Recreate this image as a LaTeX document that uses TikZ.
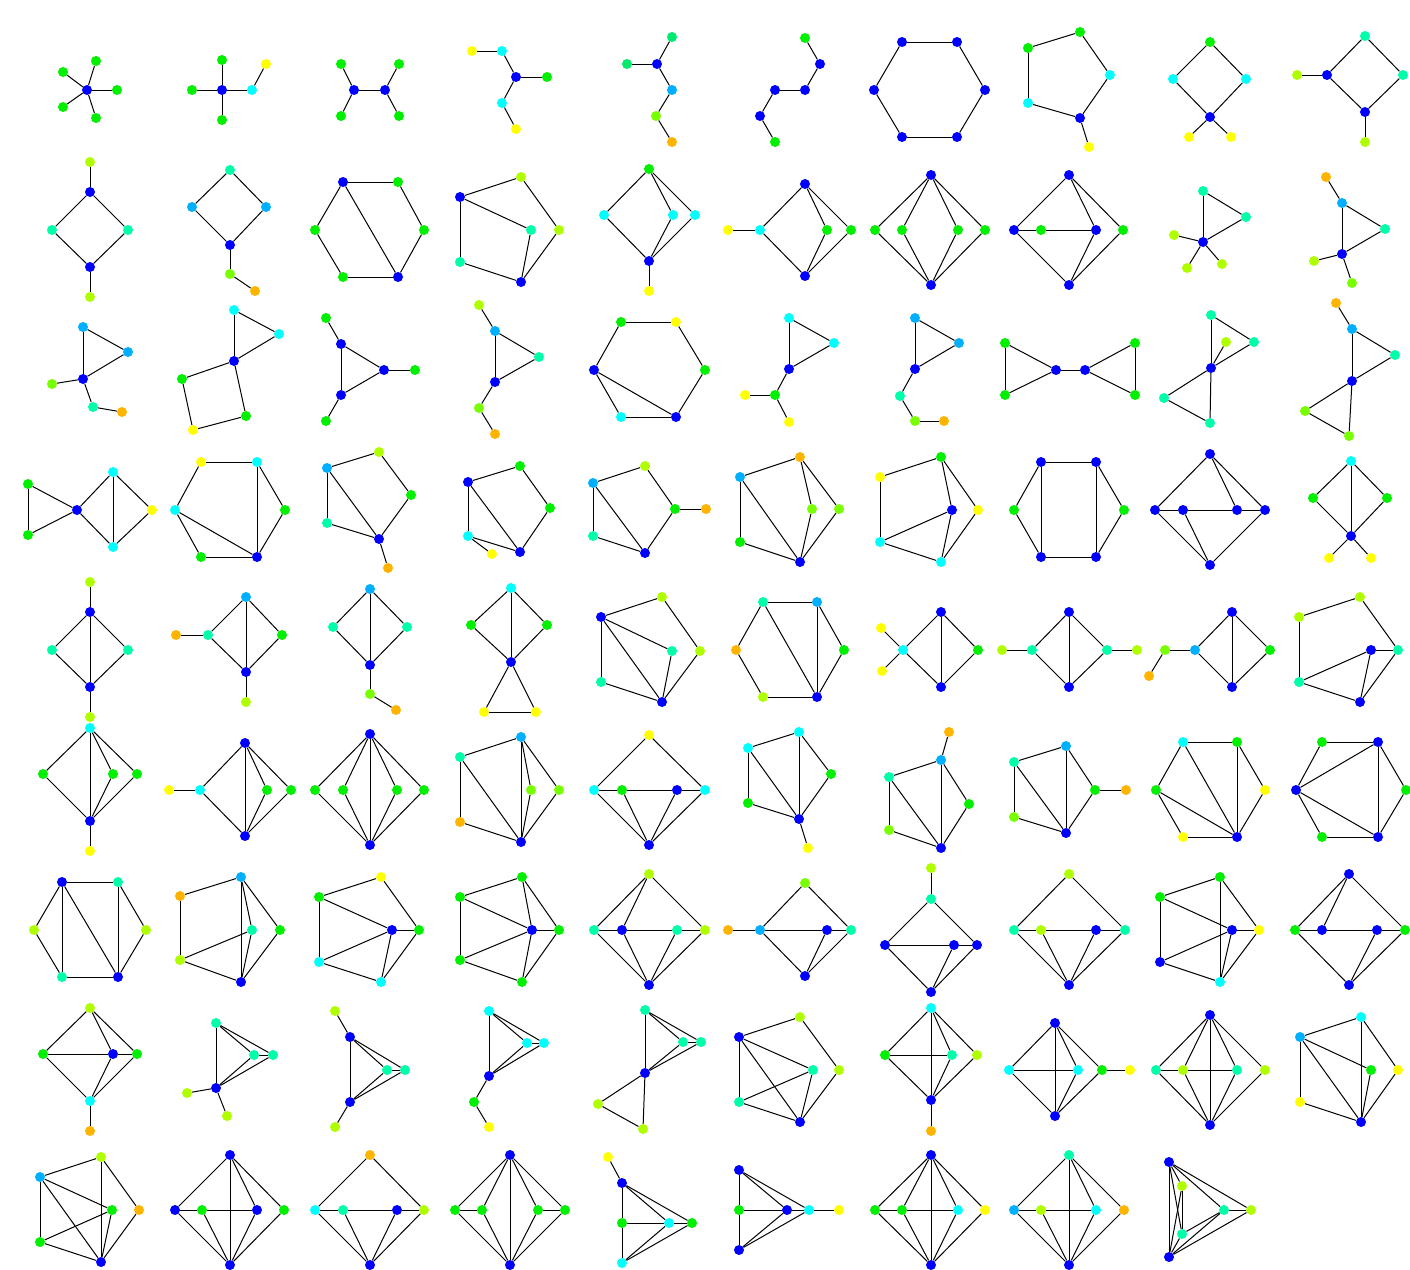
\documentclass[tikz,border=0pt]{standalone}
\usepackage{tikz}
\usetikzlibrary{positioning}
\pgfdeclarelayer{background}
\pgfsetlayers{background,main}

\definecolor{vb}{RGB}{0,0,255}
\definecolor{vlb}{RGB}{0,175,255}
\definecolor{vc}{RGB}{0,255,255}
\definecolor{vt}{RGB}{0,255,170}
\definecolor{vsg}{RGB}{0,235,110}
\definecolor{vg}{RGB}{0,240,0}
\definecolor{vch}{RGB}{120,255,0}
\definecolor{vl}{RGB}{175,255,0}
\definecolor{vy}{RGB}{255,255,0}
\definecolor{vo}{RGB}{255,180,0}

% Knoten und Kanten eines Graphen (Name, Liste)
\newcommand\graphverts[2]{\foreach \n/\c/\x/\y in {#2}{\node[vert, fill=\c] (#1\n) at (\x,\y) {};}}
\newcommand\graphedges[2]{\begin{pgfonlayer}{background}\foreach \u/\v in {#2}{\draw[edge] (#1\u) -- (#1\v);}\end{pgfonlayer}}

\begin{document}
\begin{tikzpicture}[x=1pt, y=-1pt,
        vert/.style={circle, inner sep=0pt, minimum size=10pt},
        edge/.style={line width=1pt, black}
      ]
        % Feste Bounding-Box
        \useasboundingbox (0,0) rectangle (1410,1269);

        % Zeile 1
        \graphverts{g1}{a/vb/87/90, b/vg/96/61, c/vg/63/72, d/vg/117/90, e/vg/63/107, f/vg/96/118}
        \graphedges{g1}{a/b,a/c,a/d,a/e,a/f}
        \graphverts{g2}{a/vb/222/90, b/vg/192/90, c/vg/222/60, d/vg/222/120, e/vc/252/90, f/vy/266/64}
        \graphedges{g2}{a/b,a/c,a/d,a/e,e/f}
        \graphverts{g3}{a/vb/354/90, b/vb/385/90, c/vg/341/64, d/vg/341/116, e/vg/399/64, f/vg/399/116}
        \graphedges{g3}{a/b,a/c,a/d,b/e,b/f}
        \graphverts{g4}{a/vy/472/51, b/vc/502/51, c/vb/516/77, d/vg/547/77, e/vc/502/103, f/vy/516/129}
        \graphedges{g4}{a/b,b/c,c/d,c/e,e/f}
        \graphverts{g5}{a/vsg/672/37, b/vb/657/64, c/vsg/627/64, d/vlb/672/90, e/vch/656/116, f/vo/672/142}
        \graphedges{g5}{a/b,c/b,b/d,d/e,e/f}
        \graphverts{g6}{a/vg/805/38, b/vb/820/64, c/vb/805/90, d/vb/775/90, e/vb/760/116, f/vg/775/142}
        \graphedges{g6}{a/b,b/c,c/d,d/e,e/f}
        \graphverts{g7}{a/vb/902/42, b/vb/957/42, c/vb/985/90, d/vb/957/137, e/vb/902/137, f/vb/874/90}
        \graphedges{g7}{a/b,b/c,c/d,d/e,e/f,f/a}
        \graphverts{g8}{a/vg/1028/48, b/vg/1080/32, c/vc/1110/75, d/vb/1080/118, e/vc/1028/103, f/vy/1089/147}
        \graphedges{g8}{a/b,b/c,c/d,d/e,e/a,d/f}
        \graphverts{g9}{a/vg/1210/42, b/vc/1173/79, c/vc/1246/79, d/vb/1210/117, e/vy/1189/137, f/vy/1231/137}
        \graphedges{g9}{a/b,a/c,b/d,c/d,d/e,d/f}
        \graphverts{g10}{a/vt/1365/36, b/vb/1327/75, c/vt/1403/75, d/vb/1365/112, e/vl/1297/75, f/vl/1365/142}
        \graphedges{g10}{a/b,a/c,b/d,c/d,b/e,d/f}

        % Zeile 2
        \graphverts{g11}{a/vl/90/162, b/vb/90/192, c/vt/52/230, d/vt/128/230, e/vb/90/267, f/vl/90/297}
        \graphedges{g11}{a/b,b/c,b/d,c/e,d/e,e/f}
        \graphverts{g12}{a/vt/230/170, b/vlb/192/207, c/vlb/266/207, d/vb/230/245, e/vch/230/274, f/vo/255/291}
        \graphedges{g12}{a/b,a/c,b/d,c/d,d/e,e/f}
        \graphverts{g13}{a/vb/343/182, b/vg/398/182, c/vg/424/230, d/vb/398/277, e/vg/343/277, f/vg/315/230}
        \graphedges{g13}{a/b,b/c,c/d,d/e,e/f,f/a,a/d}
        \graphverts{g14}{a/vb/460/197, b/vl/521/177, c/vl/559/230, d/vt/531/230, e/vt/460/262, f/vb/521/282}
        \graphedges{g14}{a/b,b/c,c/f,a/d,d/f,a/e,e/f}
        \graphverts{g15}{a/vg/649/169, b/vc/604/215, c/vc/673/215, d/vc/695/215, e/vb/649/261, f/vy/649/291}
        \graphedges{g15}{a/b,a/c,a/d,b/e,c/e,d/e,e/f}
        \graphverts{g16}{a/vb/805/184, b/vc/760/230, c/vy/728/230, d/vg/827/230, e/vg/851/230, f/vb/805/276}
        \graphedges{g16}{c/b,b/a,b/f,a/d,a/e,d/f,e/f}
        \graphverts{g17}{a/vb/931/175, b/vg/875/230, c/vg/902/230, d/vg/958/230, e/vg/985/230, f/vb/931/285}
        \graphedges{g17}{a/b,a/c,a/d,a/e,f/b,f/c,f/d,f/e}
        \graphverts{g18}{a/vb/1069/175, b/vb/1014/230, c/vg/1041/230, d/vb/1096/230, e/vg/1123/230, f/vb/1069/285}
        \graphedges{g18}{a/b,a/d,a/e,f/b,f/d,f/e,b/c,c/d}
        \graphverts{g19}{a/vt/1203/191, b/vt/1246/217, c/vb/1203/242, d/vl/1174/235, e/vl/1187/268, f/vl/1222/264}
        \graphedges{g19}{a/b,a/c,b/c,c/d,c/e,c/f}
        \graphverts{g20}{a/vo/1326/177, b/vlb/1342/203, c/vt/1385/229, d/vb/1342/254, e/vl/1314/261, f/vch/1352/283}
        \graphedges{g20}{a/b,b/c,b/d,c/d,d/e,d/f}

        % Zeile 3
        \graphverts{g21}{a/vlb/83/327, b/vlb/128/352, c/vb/83/379, d/vch/52/384, e/vt/93/407, f/vo/122/412}
        \graphedges{g21}{a/b,a/c,b/c,c/d,c/e,e/f}
        \graphverts{g22}{a/vc/234/310, b/vc/279/334, c/vb/234/361, d/vg/182/379, e/vg/246/416, f/vy/193/430}
        \graphedges{g22}{a/b,a/c,b/c,c/d,c/e,d/f,f/e}
        \graphverts{g23}{a/vg/326/318, b/vb/341/344, c/vb/384/370, d/vg/415/370, e/vb/341/395, f/vg/326/421}
        \graphedges{g23}{a/b,b/c,b/e,c/e,c/d,e/f}
        \graphverts{g24}{a/vl/479/305, b/vlb/495/331, c/vt/539/357, d/vb/495/382, e/vch/479/408, f/vo/495/434}
        \graphedges{g24}{a/b,b/c,b/d,c/d,d/e,e/f}
        \graphverts{g25}{a/vg/621/322, b/vy/676/322, c/vg/705/370, d/vb/676/417, e/vc/621/417, f/vb/594/370}
        \graphedges{g25}{a/b,b/c,c/d,d/e,e/f,f/a,f/d}
        \graphverts{g26}{a/vc/789/318, b/vc/834/343, c/vb/789/369, d/vg/775/395, e/vy/745/395, f/vy/789/422}
        \graphedges{g26}{a/b,a/c,b/c,c/d,d/e,d/f}
        \graphverts{g27}{a/vlb/915/318, b/vlb/959/343, c/vb/915/369, d/vt/900/396, e/vch/915/421, f/vo/944/421}
        \graphedges{g27}{a/b,a/c,b/c,c/d,d/e,e/f}
        \graphverts{g28}{a/vg/1005/343, b/vg/1005/395, c/vb/1056/370, d/vb/1085/370, e/vg/1135/343, f/vg/1135/395}
        \graphedges{g28}{a/b,a/c,b/c,c/d,d/e,d/f,e/f}
        \graphverts{g29}{a/vt/1211/315, b/vt/1254/342, c/vb/1211/368, d/vl/1226/342, e/vt/1164/398, f/vt/1210/423}
        \graphedges{g29}{a/b,a/c,b/c,c/d,c/e,e/f,c/f}
        \graphverts{g30}{a/vo/1336/303, b/vlb/1352/329, c/vt/1395/355, d/vb/1352/381, e/vch/1305/411, f/vch/1349/436}
        \graphedges{g30}{a/b,b/c,b/d,c/d,d/e,e/f,d/f}

        % Zeile 4
        \graphverts{g31}{a/vg/28/484, b/vg/28/535, c/vb/77/510, d/vc/113/472, e/vy/152/510, f/vc/113/547}
        \graphedges{g31}{a/b,a/c,b/c,c/d,c/f,d/f,d/e,e/f}
        \graphverts{g32}{a/vy/201/462, b/vc/257/462, c/vg/285/510, d/vb/257/557, e/vg/201/557, f/vc/175/510}
        \graphedges{g32}{a/b,b/c,c/d,d/e,e/f,f/a,b/d,f/d}
        \graphverts{g33}{a/vl/379/452, b/vlb/327/468, c/vg/411/495, d/vt/327/523, e/vb/379/539, f/vo/388/568}
        \graphedges{g33}{a/b,a/c,c/e,b/d,d/e,b/e,e/f}
        \graphverts{g34}{a/vb/468/482, b/vg/520/466, c/vg/550/508, d/vc/468/536, e/vy/492/554, f/vb/520/552}
        \graphedges{g34}{a/b,b/c,c/f,a/d,d/f,d/e,a/f}
        \graphverts{g35}{a/vlb/593/483, b/vl/645/466, c/vg/675/509, d/vo/706/509, e/vt/593/536, f/vb/645/553}
        \graphedges{g35}{a/b,b/c,c/d,c/f,a/e,e/f,a/f}
        \graphverts{g36}{a/vlb/740/477, b/vo/800/457, c/vch/812/509, d/vch/839/509, e/vg/740/542, f/vb/800/562}
        \graphedges{g36}{a/b,a/e,a/f,e/f,b/c,b/d,c/f,d/f}
        \graphverts{g37}{a/vy/880/477, b/vg/941/457, c/vb/952/510, d/vy/978/510, e/vc/880/542, f/vc/941/562}
        \graphedges{g37}{a/b,a/e,b/c,b/d,e/c,e/f,c/f,d/f}
        \graphverts{g38}{a/vb/1041/462, b/vb/1096/462, c/vg/1124/510, d/vb/1096/557, e/vb/1041/557, f/vg/1014/510}
        \graphedges{g38}{a/b,b/c,c/d,d/e,e/f,f/a,a/e,b/d}
        \graphverts{g39}{a/vb/1210/454, b/vb/1155/510, c/vb/1183/510, d/vb/1237/510, e/vb/1265/510, f/vb/1210/565}
        \graphedges{g39}{a/b,a/d,a/e,f/b,f/c,f/e,b/c,c/d,d/e}
        \graphverts{g40}{a/vc/1351/461, b/vg/1313/498, c/vg/1387/498, d/vb/1351/536, e/vy/1329/558, f/vy/1371/558}
        \graphedges{g40}{a/b,a/c,a/d,b/d,c/d,d/e,d/f}

        % Zeile 5
        \graphverts{g41}{a/vl/90/582, b/vb/90/612, c/vt/52/650, d/vt/128/650, e/vb/90/687, f/vl/90/717}
        \graphedges{g41}{a/b,b/c,b/d,b/e,c/e,d/e,e/f}
        \graphverts{g42}{a/vlb/246/597, b/vt/208/635, c/vo/176/635, d/vg/282/635, e/vb/246/672, f/vl/246/702}
        \graphedges{g42}{c/b,b/a,b/e,a/d,d/e,a/e,e/f}
        \graphverts{g43}{a/vlb/370/589, b/vt/333/627, c/vt/407/627, d/vb/370/665, e/vch/370/694, f/vo/396/710}
        \graphedges{g43}{a/b,a/c,a/d,b/d,c/d,d/e,e/f}
        \graphverts{g44}{a/vc/511/588, b/vg/471/625, c/vg/547/625, d/vb/511/662, e/vy/484/712, f/vy/536/712}
        \graphedges{g44}{a/b,a/c,a/d,b/d,c/d,d/e,d/f,e/f}
        \graphverts{g45}{a/vb/601/617, b/vl/662/597, c/vt/672/651, d/vl/700/651, e/vt/601/682, f/vb/662/702}
        \graphedges{g45}{a/b,b/d,d/f,a/c,c/f,a/e,e/f,a/f}
        \graphverts{g46}{a/vt/763/602, b/vlb/817/602, c/vo/736/650, d/vg/844/650, e/vl/763/697, f/vb/817/697}
        \graphedges{g46}{a/b,b/d,d/f,f/e,e/c,c/a,a/f,b/f}
        \graphverts{g47}{a/vb/941/612, b/vc/903/650, c/vg/978/650, d/vb/941/687, e/vy/881/628, f/vy/882/671}
        \graphedges{g47}{a/b,a/c,a/d,b/d,c/d,b/e,b/f}
        \graphverts{g48}{a/vb/1069/612, b/vt/1032/650, c/vt/1107/650, d/vb/1069/687, e/vl/1002/650, f/vl/1137/650}
        \graphedges{g48}{a/b,a/c,a/d,b/d,c/d,e/b,c/f}
        \graphverts{g49}{a/vb/1232/612, b/vlb/1195/650, c/vg/1270/650, d/vb/1232/687, e/vch/1165/650, f/vo/1149/676}
        \graphedges{g49}{a/b,a/c,a/d,b/d,c/d,b/e,e/f}
        \graphverts{g50}{a/vl/1360/597, b/vl/1299/617, c/vb/1371/650, d/vt/1398/650, e/vt/1299/682, f/vb/1360/702}
        \graphedges{g50}{a/b,a/d,b/e,e/c,e/f,c/d,c/f,d/f}

        % Zeile 6
        \graphverts{g51}{a/vc/90/728, b/vg/43/774, c/vg/113/774, d/vg/137/774, e/vb/90/821, f/vy/90/851}
        \graphedges{g51}{a/b,a/c,a/d,a/e,b/e,c/e,d/e,e/f}
        \graphverts{g52}{a/vb/245/743, b/vc/200/790, c/vy/169/790, d/vg/267/790, e/vg/291/790, f/vb/245/836}
        \graphedges{g52}{c/b,b/a,b/f,a/f,a/d,a/e,d/f,e/f}
        \graphverts{g53}{a/vb/370/734, b/vg/315/790, c/vg/343/790, d/vg/397/790, e/vg/424/790, f/vb/370/845}
        \graphedges{g53}{a/b,a/c,a/d,a/e,a/f,f/b,f/c,f/d,f/e}
        \graphverts{g54}{a/vlb/521/737, b/vt/460/757, c/vch/531/790, d/vch/559/790, e/vo/460/822, f/vb/521/842}
        \graphedges{g54}{b/a,a/c,a/d,a/f,b/e,b/f,e/f,c/f,d/f}
        \graphverts{g55}{a/vy/649/735, b/vc/594/790, c/vg/622/790, d/vb/677/790, e/vc/705/790, f/vb/649/845}
        \graphedges{g55}{a/b,a/e,b/c,c/d,d/e,b/f,c/f,d/f,e/f}
        \graphverts{g56}{a/vc/799/732, b/vc/748/748, c/vg/831/774, d/vg/748/803, e/vb/799/819, f/vy/808/848}
        \graphedges{g56}{a/b,a/c,a/e,b/d,b/e,c/e,d/e,e/f}
        \graphverts{g57}{a/vo/949/732, b/vlb/941/760, c/vt/889/777, d/vg/969/804, e/vch/889/830, f/vb/941/848}
        \graphedges{g57}{a/b,b/c,b/d,b/f,c/e,c/f,d/f,e/f}
        \graphverts{g58}{a/vlb/1066/746, b/vt/1014/762, c/vg/1095/790, d/vo/1126/790, e/vch/1014/817, f/vb/1066/833}
        \graphedges{g58}{a/b,a/c,a/f,b/e,b/f,c/f,c/d,e/f}
        \graphverts{g59}{a/vc/1183/742, b/vg/1237/742, c/vg/1156/790, d/vy/1265/790, e/vy/1183/837, f/vb/1237/837}
        \graphedges{g59}{a/b,b/d,d/f,f/e,e/c,c/a,a/f,c/f,b/f}
        \graphverts{g60}{a/vg/1322/742, b/vb/1378/742, c/vb/1296/790, d/vg/1406/790, e/vg/1322/837, f/vb/1378/837}
        \graphedges{g60}{a/b,b/d,d/f,f/e,e/c,c/a,c/b,c/f,b/f}

        % Zeile 7
        \graphverts{g61}{a/vb/62/882, b/vt/118/882, c/vl/34/930, d/vl/146/930, e/vt/62/977, f/vb/118/977}
        \graphedges{g61}{a/b,b/d,d/f,f/e,e/c,c/a,a/e,a/f,b/f}
        \graphverts{g62}{a/vlb/241/877, b/vo/180/896, c/vt/252/930, d/vg/280/930, e/vl/180/960, f/vb/241/982}
        \graphedges{g62}{b/a,b/e,a/c,a/d,a/f,e/c,e/f,c/f,d/f}
        \graphverts{g63}{a/vy/381/877, b/vg/319/897, c/vb/392/930, d/vg/419/930, e/vc/319/962, f/vc/381/982}
        \graphedges{g63}{b/a,a/d,b/c,b/e,c/d,c/e,c/f,e/f,d/f}
        \graphverts{g64}{a/vg/522/877, b/vg/460/897, c/vb/532/930, d/vg/559/930, e/vg/460/960, f/vg/522/982}
        \graphedges{g64}{a/b,a/d,a/c,b/c,b/e,c/d,c/e,c/f,e/f,d/f}
        \graphverts{g65}{a/vl/649/874, b/vt/594/930, c/vb/622/930, d/vt/677/930, e/vl/705/930, f/vb/649/985}
        \graphedges{g65}{a/b,a/c,a/e,b/c,c/d,d/e,b/f,c/f,d/f,e/f}
        \graphverts{g66}{a/vch/805/883, b/vo/728/930, c/vlb/760/930, d/vb/827/930, e/vt/851/930, f/vb/805/976}
        \graphedges{g66}{b/c,c/d,d/e,a/c,a/e,c/f,d/f,e/f}
        \graphverts{g67}{a/vl/931/868, b/vt/931/899, c/vb/885/945, d/vb/954/945, e/vb/977/945, f/vb/931/992}
        \graphedges{g67}{a/b,b/c,b/e,c/d,d/e,c/f,d/f,e/f}
        \graphverts{g68}{a/vl/1069/874, b/vt/1014/930, c/vl/1041/930, d/vb/1096/930, e/vt/1125/930, f/vb/1069/985}
        \graphedges{g68}{a/b,a/e,b/c,c/d,d/e,b/f,c/f,d/f,e/f}
        \graphverts{g69}{a/vg/1220/877, b/vg/1160/897, c/vb/1232/930, d/vy/1259/930, e/vb/1160/962, f/vc/1220/982}
        \graphedges{g69}{a/b,a/d,a/f,b/c,b/e,c/d,c/e,c/f,e/f,d/f}
        \graphverts{g70}{a/vb/1349/874, b/vg/1295/930, c/vb/1322/930, d/vb/1377/930, e/vg/1405/930, f/vb/1349/985}
        \graphedges{g70}{a/b,a/c,a/e,b/c,c/d,d/e,b/f,d/f,e/f}

        % Zeile 8
        \graphverts{g71}{a/vl/90/1008, b/vg/43/1054, c/vb/113/1054, d/vg/137/1054, e/vc/90/1101, f/vo/90/1131}
        \graphedges{g71}{a/b,a/c,a/d,b/c,c/d,b/e,c/e,d/e,e/f}
        \graphverts{g72}{a/vt/216/1023, b/vt/254/1055, c/vt/273/1055, d/vb/216/1088, e/vl/187/1093, f/vl/227/1116}
        \graphedges{g72}{a/b,a/c,b/c,a/d,b/d,c/d,d/e,d/f}
        \graphverts{g73}{a/vl/335/1011, b/vb/350/1037, c/vt/387/1070, d/vt/405/1070, e/vb/350/1102, f/vl/335/1127}
        \graphedges{g73}{a/b,b/c,b/d,b/e,c/d,c/e,d/e,e/f}
        \graphverts{g74}{a/vc/489/1011, b/vc/527/1043, c/vc/544/1043, d/vb/489/1076, e/vg/474/1102, f/vy/489/1127}
        \graphedges{g74}{a/b,a/c,b/c,a/d,b/d,c/d,d/e,e/f}
        \graphverts{g75}{a/vt/645/1010, b/vt/683/1042, c/vt/701/1042, d/vb/645/1073, e/vl/598/1104, f/vl/643/1129}
        \graphedges{g75}{a/b,a/c,b/c,a/d,b/d,c/d,d/e,e/f,d/f}
        \graphverts{g76}{a/vl/800/1017, b/vb/739/1037, c/vt/813/1070, d/vl/839/1070, e/vt/739/1102, f/vb/800/1122}
        \graphedges{g76}{b/a,a/d,d/f,b/c,b/e,b/f,c/e,c/f,e/f}
        \graphverts{g77}{a/vc/931/1008, b/vg/885/1055, c/vt/952/1055, d/vl/977/1055, e/vb/931/1100, f/vo/931/1131}
        \graphedges{g77}{a/b,a/c,a/d,a/e,b/c,b/e,c/e,d/e,e/f}
        \graphverts{g78}{a/vb/1055/1023, b/vc/1009/1070, c/vc/1078/1070, d/vg/1102/1070, e/vy/1130/1070, f/vb/1055/1116}
        \graphedges{g78}{a/b,a/f,a/c,a/d,b/c,d/e,b/f,c/f,d/f}
        \graphverts{g79}{a/vb/1210/1015, b/vt/1156/1070, c/vl/1183/1070, d/vt/1237/1070, e/vl/1265/1070, f/vb/1210/1125}
        \graphedges{g79}{a/b,a/c,a/d,a/e,a/f,f/b,f/c,f/d,f/e,b/c,c/d}
        \graphverts{g80}{a/vlb/1300/1037, b/vc/1361/1017, c/vg/1371/1070, d/vy/1398/1070, e/vy/1300/1102, f/vb/1361/1122}
        \graphedges{g80}{a/b,a/c,a/e,a/f,b/d,b/f,c/f,d/f,e/f}

        % Zeile 9
        \graphverts{g81}{a/vlb/40/1177, b/vl/101/1157, c/vg/112/1210, d/vo/139/1210, e/vg/40/1242, f/vb/101/1262}
        \graphedges{g81}{a/b,a/c,a/e,a/f,b/d,b/f,c/f,d/f,e/c,e/f}
        \graphverts{g82}{a/vb/230/1155, b/vb/175/1210, c/vg/202/1210, d/vb/257/1210, e/vg/284/1210, f/vb/230/1265}
        \graphedges{g82}{a/b,a/f,a/d,a/e,b/f,c/f,d/f,e/f,b/c,c/d}
        \graphverts{g83}{a/vo/370/1155, b/vc/315/1210, c/vt/343/1210, d/vb/397/1210, e/vl/424/1210, f/vb/370/1265}
        \graphedges{g83}{a/b,a/e,b/c,c/d,d/e,b/f,c/f,d/f,e/f}
        \graphverts{g84}{a/vb/510/1155, b/vg/455/1210, c/vg/482/1210, d/vg/538/1210, e/vg/565/1210, f/vb/510/1265}
        \graphedges{g84}{a/b,a/c,a/d,a/e,a/f,f/b,f/c,f/d,f/e,b/c,d/e}
        \graphverts{g85}{a/vy/608/1157, b/vb/622/1183, c/vg/622/1223, d/vc/669/1223, e/vg/692/1223, f/vc/622/1263}
        \graphedges{g85}{a/b,b/c,b/d,b/e,c/d,d/e,c/f,f/d,f/e}
        \graphverts{g86}{a/vb/739/1170, b/vb/739/1250, c/vg/739/1210, d/vb/787/1210, e/vc/809/1210, f/vy/839/1210}
        \graphedges{g86}{a/c,c/b,a/d,a/e,b/d,b/e,c/d,d/e,e/f}
        \graphverts{g87}{a/vb/931/1155, b/vg/875/1210, c/vg/902/1210, d/vc/958/1210, e/vy/985/1210, f/vb/931/1265}
        \graphedges{g87}{a/b,a/c,a/d,a/e,a/f,f/b,f/c,f/d,f/e,b/c,c/d}
        \graphverts{g88}{a/vt/1069/1155, b/vlb/1014/1210, c/vl/1041/1210, d/vc/1096/1210, e/vo/1124/1210, f/vb/1069/1265}
        \graphedges{g88}{a/b,a/d,a/e,a/f,b/c,c/d,b/f,c/f,d/f,e/f}
        \graphverts{g89}{a/vb/1169/1162, b/vl/1182/1186, c/vt/1224/1210, d/vl/1251/1210, e/vt/1182/1234, f/vb/1169/1257}
        \graphedges{g89}{a/b,a/c,a/d,a/e,a/f,b/e,b/f,e/c,e/f,c/d,c/f,d/f}
      \end{tikzpicture}
\end{document}
